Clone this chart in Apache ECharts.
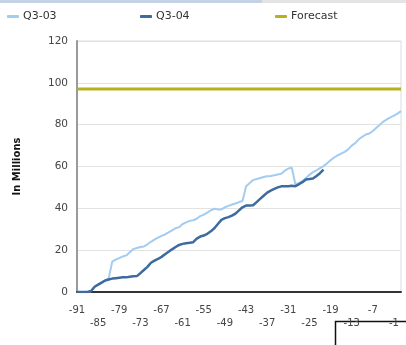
<!DOCTYPE html>
<html>
<head>
<meta charset="utf-8">
<script src="https://cdn.jsdelivr.net/npm/echarts@6/dist/echarts.min.js"></script>
<style>
  html, body { margin: 0; padding: 0; background: #ffffff; }
  #chart { width: 406px; height: 345px; }
</style>
</head>
<body>
<div id="chart"></div>
<script>
// Days relative to quarter end
const days = [];
for (let d = -91; d <= 1; d++) days.push(d);

// Cumulative totals, in millions
const q303 = [
  0, 0, 0, 0, 0.5, 2.5, 3.5, 4.5, 5.5, 6.5,
  14.5, 15.5, 16.2, 17, 17.5, 19, 20.5, 21, 21.5, 21.8,
  22.8, 24, 25, 26, 26.8, 27.5, 28.5, 29.5, 30.5, 31,
  32.5, 33.3, 34, 34.3, 35, 36.3, 37, 38, 39, 39.8,
  39.5, 39.5, 40.5, 41.2, 41.8, 42.3, 43, 43.5, 50.5, 52,
  53.5, 54, 54.5, 55, 55.3, 55.5, 55.8, 56.2, 56.5, 58,
  59, 59.4, 51.5, 52.2, 53, 54.5, 56, 57.3, 58.2, 59.2,
  60.2, 61.5, 63, 64.3, 65.3, 66.2, 67, 68.2, 70, 71.2,
  73, 74.2, 75.3, 75.8, 77, 78.5, 80, 81.5, 82.5, 83.5,
  84.3, 85.3, 86.5
];
const q304 = [
  0, 0, 0, 0, 0.5, 2.5, 3.5, 4.5, 5.5, 6,
  6.4, 6.6, 6.8, 7, 7, 7.3, 7.5, 7.6, 9, 10.5,
  12, 14, 15, 15.8, 16.8, 18, 19.2, 20.4, 21.5, 22.5,
  23, 23.3, 23.5, 23.8, 25.5, 26.5, 27, 27.8, 29, 30.5,
  32.5, 34.5, 35.3, 35.8, 36.5, 37.5, 39, 40.5, 41.3, 41.3,
  41.5, 43, 44.5, 46, 47.5, 48.5, 49.3, 50, 50.5, 50.6,
  50.6, 50.8, 50.6, 51.5, 52.5, 53.8, 54, 54.3, 55.5, 56.8,
  58.5
];
const forecastValue = 97;
const forecast = days.map(() => forecastValue);

const yTicks = { min: 0, max: 120, interval: 20 };

const FONT = 'DejaVu Sans';
const chart = echarts.init(document.getElementById('chart'), null, { renderer: 'canvas' });

function legendItem(name, left, color) {
  return {
    data: [name],
    left: left,
    top: 11,
    padding: 0,
    itemWidth: 12,
    itemHeight: 3,
    itemGap: 0,
    icon: 'roundRect',
    textStyle: { fontFamily: FONT, fontSize: 11, color: '#333', padding: [0, 0, 0, -1] },
    itemStyle: { color: color }
  };
}

chart.setOption({
  animation: false,
  backgroundColor: '#ffffff',
  legend: [
    legendItem('Q3-03', 7, '#a2ccf0'),
    legendItem('Q3-04', 140, '#3d6b9f'),
    legendItem('Forecast', 275, '#b6b11e')
  ],
  grid: { left: 77, right: 5, top: 41, bottom: 53, show: true, borderColor: '#dcdcdc', borderWidth: 1 },
  xAxis: {
    type: 'category',
    data: days,
    boundaryGap: false,
    axisLine: { lineStyle: { color: '#333', width: 2 } },
    axisTick: { show: false },
    axisLabel: {
      interval: 5,
      margin: 12,
      fontFamily: FONT,
      fontSize: 10,
      color: '#444',
      lineHeight: 13,
      formatter: function (value, index) {
        const k = Math.round(index / 6);
        return (k % 2 === 1 ? '\n' : '') + value;
      }
    },
    splitLine: { show: false }
  },
  yAxis: {
    type: 'value',
    min: yTicks.min,
    max: yTicks.max,
    interval: yTicks.interval,
    name: 'In Millions',
    nameLocation: 'middle',
    nameGap: 55,
    nameTextStyle: { fontFamily: FONT, fontSize: 10, fontWeight: 'bold', color: '#111' },
    axisLine: { show: true, lineStyle: { color: '#9a9a9a', width: 2 } },
    axisTick: { show: false },
    axisLabel: { margin: 9, fontFamily: FONT, fontSize: 10.5, color: '#444' },
    splitLine: { lineStyle: { color: '#e2e2e2', width: 1 } }
  },
  series: [
    {
      name: 'Q3-03', type: 'line', data: q303, showSymbol: false,
      lineStyle: { color: '#a2ccf0', width: 2 }, itemStyle: { color: '#a2ccf0' }, z: 2
    },
    {
      name: 'Q3-04', type: 'line', data: q304, showSymbol: false,
      lineStyle: { color: '#3d6b9f', width: 2.5 }, itemStyle: { color: '#3d6b9f' }, z: 3
    },
    {
      name: 'Forecast', type: 'line', data: forecast, showSymbol: false,
      lineStyle: { color: '#b6b11e', width: 3 }, itemStyle: { color: '#b6b11e' }, z: 4
    }
  ],
  graphic: [
    { type: 'rect', shape: { x: 0, y: 0, width: 262, height: 3 }, style: { fill: '#c4d3e3' } },
    { type: 'rect', shape: { x: 262, y: 0, width: 144, height: 3 }, style: { fill: '#e4e4e4' } },
    { type: 'polyline', shape: { points: [[335.5, 345], [335.5, 321.5], [406, 321.5]] }, style: { stroke: '#111', lineWidth: 1.5, fill: null } }
  ]
});
</script>
</body>
</html>
